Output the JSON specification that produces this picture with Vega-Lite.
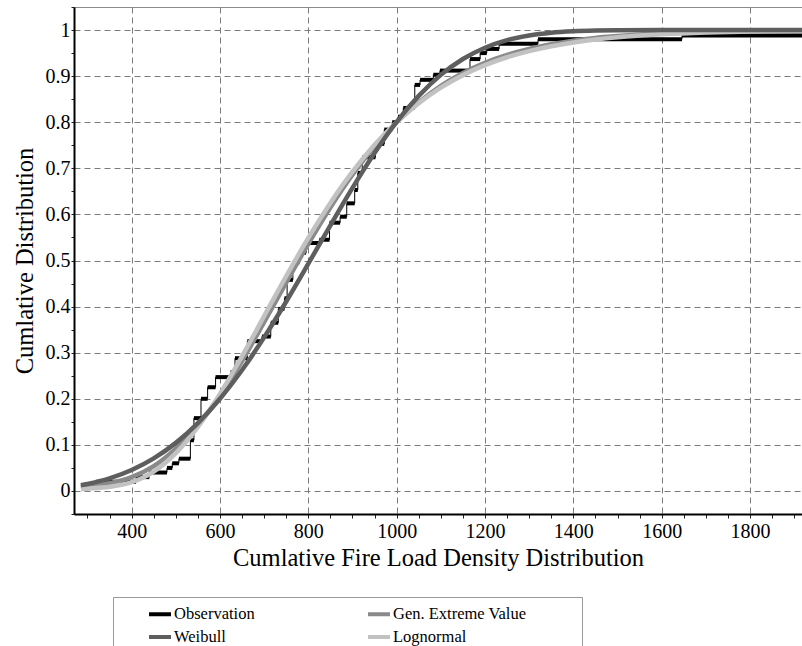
{
  "$schema": "https://vega.github.io/schema/vega-lite/v6.json",
  "width": 728,
  "height": 507,
  "autosize": {"type": "none"},
  "padding": {"left": 74, "top": 7, "right": 0, "bottom": 132},
  "background": "white",
  "config": {
    "view": {"stroke": "#8c8c8c", "strokeWidth": 1},
    "font": "Liberation Serif"
  },
  "datasets": {
    "obs": [
      {"x": 290, "x2": 320, "F": 0.01, "d": "Observation"},
      {"x": 320, "x2": 410, "F": 0.02, "d": "Observation"},
      {"x": 410, "x2": 440, "F": 0.03, "d": "Observation"},
      {"x": 440, "x2": 480, "F": 0.04, "d": "Observation"},
      {"x": 480, "x2": 492, "F": 0.05, "d": "Observation"},
      {"x": 492, "x2": 507, "F": 0.06, "d": "Observation"},
      {"x": 507, "x2": 533, "F": 0.07, "d": "Observation"},
      {"x": 533, "x2": 541, "F": 0.11, "d": "Observation"},
      {"x": 541, "x2": 557, "F": 0.158, "d": "Observation"},
      {"x": 557, "x2": 572, "F": 0.2, "d": "Observation"},
      {"x": 572, "x2": 590, "F": 0.225, "d": "Observation"},
      {"x": 590, "x2": 624, "F": 0.247, "d": "Observation"},
      {"x": 624, "x2": 634, "F": 0.258, "d": "Observation"},
      {"x": 634, "x2": 662, "F": 0.288, "d": "Observation"},
      {"x": 662, "x2": 695, "F": 0.325, "d": "Observation"},
      {"x": 695, "x2": 715, "F": 0.335, "d": "Observation"},
      {"x": 715, "x2": 732, "F": 0.365, "d": "Observation"},
      {"x": 732, "x2": 746, "F": 0.395, "d": "Observation"},
      {"x": 746, "x2": 752, "F": 0.418, "d": "Observation"},
      {"x": 752, "x2": 765, "F": 0.458, "d": "Observation"},
      {"x": 765, "x2": 780, "F": 0.496, "d": "Observation"},
      {"x": 780, "x2": 795, "F": 0.517, "d": "Observation"},
      {"x": 795, "x2": 825, "F": 0.538, "d": "Observation"},
      {"x": 825, "x2": 848, "F": 0.545, "d": "Observation"},
      {"x": 848, "x2": 872, "F": 0.582, "d": "Observation"},
      {"x": 872, "x2": 887, "F": 0.595, "d": "Observation"},
      {"x": 887, "x2": 905, "F": 0.624, "d": "Observation"},
      {"x": 905, "x2": 912, "F": 0.653, "d": "Observation"},
      {"x": 912, "x2": 922, "F": 0.69, "d": "Observation"},
      {"x": 922, "x2": 952, "F": 0.724, "d": "Observation"},
      {"x": 952, "x2": 972, "F": 0.753, "d": "Observation"},
      {"x": 972, "x2": 990, "F": 0.784, "d": "Observation"},
      {"x": 990, "x2": 1003, "F": 0.8, "d": "Observation"},
      {"x": 1003, "x2": 1015, "F": 0.812, "d": "Observation"},
      {"x": 1015, "x2": 1041, "F": 0.831, "d": "Observation"},
      {"x": 1041, "x2": 1053, "F": 0.881, "d": "Observation"},
      {"x": 1053, "x2": 1083, "F": 0.892, "d": "Observation"},
      {"x": 1083, "x2": 1098, "F": 0.903, "d": "Observation"},
      {"x": 1098, "x2": 1166, "F": 0.912, "d": "Observation"},
      {"x": 1166, "x2": 1189, "F": 0.937, "d": "Observation"},
      {"x": 1189, "x2": 1204, "F": 0.95, "d": "Observation"},
      {"x": 1204, "x2": 1232, "F": 0.959, "d": "Observation"},
      {"x": 1232, "x2": 1320, "F": 0.97, "d": "Observation"},
      {"x": 1320, "x2": 1646, "F": 0.98, "d": "Observation"},
      {"x": 1646, "x2": 1920, "F": 0.988, "d": "Observation"}
    ],
    "fits": [
      {"x": 285, "F": 0.008, "d": "Gen. Extreme Value"},
      {"x": 300, "F": 0.01, "d": "Gen. Extreme Value"},
      {"x": 350, "F": 0.017, "d": "Gen. Extreme Value"},
      {"x": 400, "F": 0.03, "d": "Gen. Extreme Value"},
      {"x": 450, "F": 0.054, "d": "Gen. Extreme Value"},
      {"x": 500, "F": 0.092, "d": "Gen. Extreme Value"},
      {"x": 550, "F": 0.143, "d": "Gen. Extreme Value"},
      {"x": 600, "F": 0.206, "d": "Gen. Extreme Value"},
      {"x": 650, "F": 0.282, "d": "Gen. Extreme Value"},
      {"x": 700, "F": 0.366, "d": "Gen. Extreme Value"},
      {"x": 750, "F": 0.452, "d": "Gen. Extreme Value"},
      {"x": 800, "F": 0.536, "d": "Gen. Extreme Value"},
      {"x": 850, "F": 0.615, "d": "Gen. Extreme Value"},
      {"x": 900, "F": 0.686, "d": "Gen. Extreme Value"},
      {"x": 950, "F": 0.748, "d": "Gen. Extreme Value"},
      {"x": 1000, "F": 0.8, "d": "Gen. Extreme Value"},
      {"x": 1050, "F": 0.843, "d": "Gen. Extreme Value"},
      {"x": 1100, "F": 0.879, "d": "Gen. Extreme Value"},
      {"x": 1150, "F": 0.907, "d": "Gen. Extreme Value"},
      {"x": 1200, "F": 0.929, "d": "Gen. Extreme Value"},
      {"x": 1250, "F": 0.946, "d": "Gen. Extreme Value"},
      {"x": 1300, "F": 0.959, "d": "Gen. Extreme Value"},
      {"x": 1350, "F": 0.969, "d": "Gen. Extreme Value"},
      {"x": 1400, "F": 0.977, "d": "Gen. Extreme Value"},
      {"x": 1450, "F": 0.983, "d": "Gen. Extreme Value"},
      {"x": 1500, "F": 0.987, "d": "Gen. Extreme Value"},
      {"x": 1600, "F": 0.993, "d": "Gen. Extreme Value"},
      {"x": 1700, "F": 0.996, "d": "Gen. Extreme Value"},
      {"x": 1800, "F": 0.998, "d": "Gen. Extreme Value"},
      {"x": 1920, "F": 0.999, "d": "Gen. Extreme Value"},
      {"x": 285, "F": 0.004, "d": "Lognormal"},
      {"x": 300, "F": 0.005, "d": "Lognormal"},
      {"x": 350, "F": 0.009, "d": "Lognormal"},
      {"x": 400, "F": 0.019, "d": "Lognormal"},
      {"x": 450, "F": 0.042, "d": "Lognormal"},
      {"x": 500, "F": 0.082, "d": "Lognormal"},
      {"x": 550, "F": 0.139, "d": "Lognormal"},
      {"x": 600, "F": 0.2105, "d": "Lognormal"},
      {"x": 650, "F": 0.2924, "d": "Lognormal"},
      {"x": 700, "F": 0.3793, "d": "Lognormal"},
      {"x": 750, "F": 0.4662, "d": "Lognormal"},
      {"x": 800, "F": 0.549, "d": "Lognormal"},
      {"x": 850, "F": 0.625, "d": "Lognormal"},
      {"x": 900, "F": 0.6926, "d": "Lognormal"},
      {"x": 950, "F": 0.751, "d": "Lognormal"},
      {"x": 1000, "F": 0.8004, "d": "Lognormal"},
      {"x": 1050, "F": 0.8414, "d": "Lognormal"},
      {"x": 1100, "F": 0.8751, "d": "Lognormal"},
      {"x": 1150, "F": 0.9022, "d": "Lognormal"},
      {"x": 1200, "F": 0.9238, "d": "Lognormal"},
      {"x": 1250, "F": 0.941, "d": "Lognormal"},
      {"x": 1300, "F": 0.9544, "d": "Lognormal"},
      {"x": 1350, "F": 0.965, "d": "Lognormal"},
      {"x": 1400, "F": 0.9731, "d": "Lognormal"},
      {"x": 1450, "F": 0.9794, "d": "Lognormal"},
      {"x": 1500, "F": 0.9843, "d": "Lognormal"},
      {"x": 1600, "F": 0.9908, "d": "Lognormal"},
      {"x": 1700, "F": 0.9947, "d": "Lognormal"},
      {"x": 1800, "F": 0.9969, "d": "Lognormal"},
      {"x": 1920, "F": 0.9984, "d": "Lognormal"},
      {"x": 285, "F": 0.0124, "d": "Weibull"},
      {"x": 300, "F": 0.0152, "d": "Weibull"},
      {"x": 350, "F": 0.0273, "d": "Weibull"},
      {"x": 400, "F": 0.0454, "d": "Weibull"},
      {"x": 450, "F": 0.0707, "d": "Weibull"},
      {"x": 500, "F": 0.1043, "d": "Weibull"},
      {"x": 550, "F": 0.1473, "d": "Weibull"},
      {"x": 600, "F": 0.2, "d": "Weibull"},
      {"x": 650, "F": 0.2623, "d": "Weibull"},
      {"x": 700, "F": 0.3332, "d": "Weibull"},
      {"x": 750, "F": 0.411, "d": "Weibull"},
      {"x": 800, "F": 0.493, "d": "Weibull"},
      {"x": 850, "F": 0.5764, "d": "Weibull"},
      {"x": 900, "F": 0.6576, "d": "Weibull"},
      {"x": 950, "F": 0.7332, "d": "Weibull"},
      {"x": 1000, "F": 0.8005, "d": "Weibull"},
      {"x": 1050, "F": 0.8571, "d": "Weibull"},
      {"x": 1100, "F": 0.9027, "d": "Weibull"},
      {"x": 1150, "F": 0.9371, "d": "Weibull"},
      {"x": 1200, "F": 0.9617, "d": "Weibull"},
      {"x": 1250, "F": 0.9781, "d": "Weibull"},
      {"x": 1300, "F": 0.9883, "d": "Weibull"},
      {"x": 1350, "F": 0.9942, "d": "Weibull"},
      {"x": 1400, "F": 0.9973, "d": "Weibull"},
      {"x": 1450, "F": 0.9989, "d": "Weibull"},
      {"x": 1500, "F": 0.9996, "d": "Weibull"},
      {"x": 1600, "F": 1.0, "d": "Weibull"},
      {"x": 1700, "F": 1.0, "d": "Weibull"},
      {"x": 1800, "F": 1.0, "d": "Weibull"},
      {"x": 1920, "F": 1.0, "d": "Weibull"}
    ]
  },
  "encoding": {
    "x": {
      "field": "x", "type": "quantitative",
      "scale": {"domain": [269.5, 1917.7], "nice": false, "zero": false},
      "axis": {
        "title": "Cumlative Fire Load Density Distribution",
        "titleFont": "Liberation Serif", "titleFontSize": 24.5, "titleFontWeight": "normal", "titleColor": "black",
        "titlePadding": 5,
        "values": [300,350,400,450,500,550,600,650,700,750,800,850,900,950,1000,1050,1100,1150,1200,1250,1300,1350,1400,1450,1500,1550,1600,1650,1700,1750,1800,1850,1900],
        "labelExpr": "datum.value % 200 === 0 ? format(datum.value, 'd') : ''",
        "labelFont": "Liberation Serif", "labelFontSize": 20, "labelColor": "black", "labelPadding": 3,
        "tickSize": 4, "tickColor": "#222", "domainColor": "black", "domainWidth": 2,
        "grid": true, "gridColor": "#7a7a7a", "gridDash": [6, 4], "gridWidth": 1,
        "gridOpacity": {"condition": {"test": "datum.value % 200 === 0", "value": 1}, "value": 0}
      }
    },
    "y": {
      "field": "F", "type": "quantitative",
      "scale": {"domain": [-0.05, 1.05], "nice": false, "zero": false},
      "axis": {
        "title": "Cumlative Distribution",
        "titleFont": "Liberation Serif", "titleFontSize": 24.5, "titleFontWeight": "normal", "titleColor": "black",
        "titlePadding": 8,
        "values": [-0.05,0,0.05,0.1,0.15,0.2,0.25,0.3,0.35,0.4,0.45,0.5,0.55,0.6,0.65,0.7,0.75,0.8,0.85,0.9,0.95,1,1.05],
        "labelExpr": "abs(datum.value*10 - round(datum.value*10)) < 0.001 ? format(datum.value, '.1~f') : ''",
        "labelFont": "Liberation Serif", "labelFontSize": 20, "labelColor": "black", "labelPadding": 1,
        "tickSize": 3, "tickColor": "#222", "domainColor": "black", "domainWidth": 2,
        "grid": true, "gridColor": "#7a7a7a", "gridDash": [6, 4], "gridWidth": 1,
        "gridOpacity": {"condition": {"test": "abs(datum.value*10 - round(datum.value*10)) < 0.001 && datum.value > -0.01 && datum.value < 1.01", "value": 1}, "value": 0}
      }
    },
    "color": {
      "field": "d", "type": "nominal",
      "scale": {
        "domain": ["Observation", "Weibull", "Gen. Extreme Value", "Lognormal"],
        "range": ["#000000", "#5e5e5e", "#8a8a8a", "#c2c2c2"]
      },
      "legend": {
        "orient": "none", "legendX": 39, "legendY": 590,
        "columns": 2,
        "title": "\u00a0", "titleOrient": "right", "titlePadding": 52, "titleFontSize": 2,
        "symbolType": "stroke", "symbolSize": 484, "symbolStrokeWidth": 4,
        "labelFont": "Liberation Serif", "labelFontSize": 16.5, "labelColor": "black", "labelOffset": 1,
        "labelLimit": 400,
        "columnPadding": 81, "rowPadding": 1, "padding": 4, "symbolOffset": 30,
        "strokeColor": "#9a9a9a", "fillColor": "white"
      }
    }
  },
  "layer": [
    {
      "data": {"name": "obs"},
      "mark": {"type": "line", "interpolate": "step-after", "strokeWidth": 1, "clip": true}
    },
    {
      "data": {"name": "obs"},
      "mark": {"type": "rule", "strokeWidth": 4, "strokeCap": "butt", "clip": true},
      "encoding": {"x2": {"field": "x2"}}
    },
    {
      "data": {"name": "fits"},
      "mark": {"type": "line", "strokeWidth": 4.5, "interpolate": "monotone", "clip": true}
    }
  ]
}
